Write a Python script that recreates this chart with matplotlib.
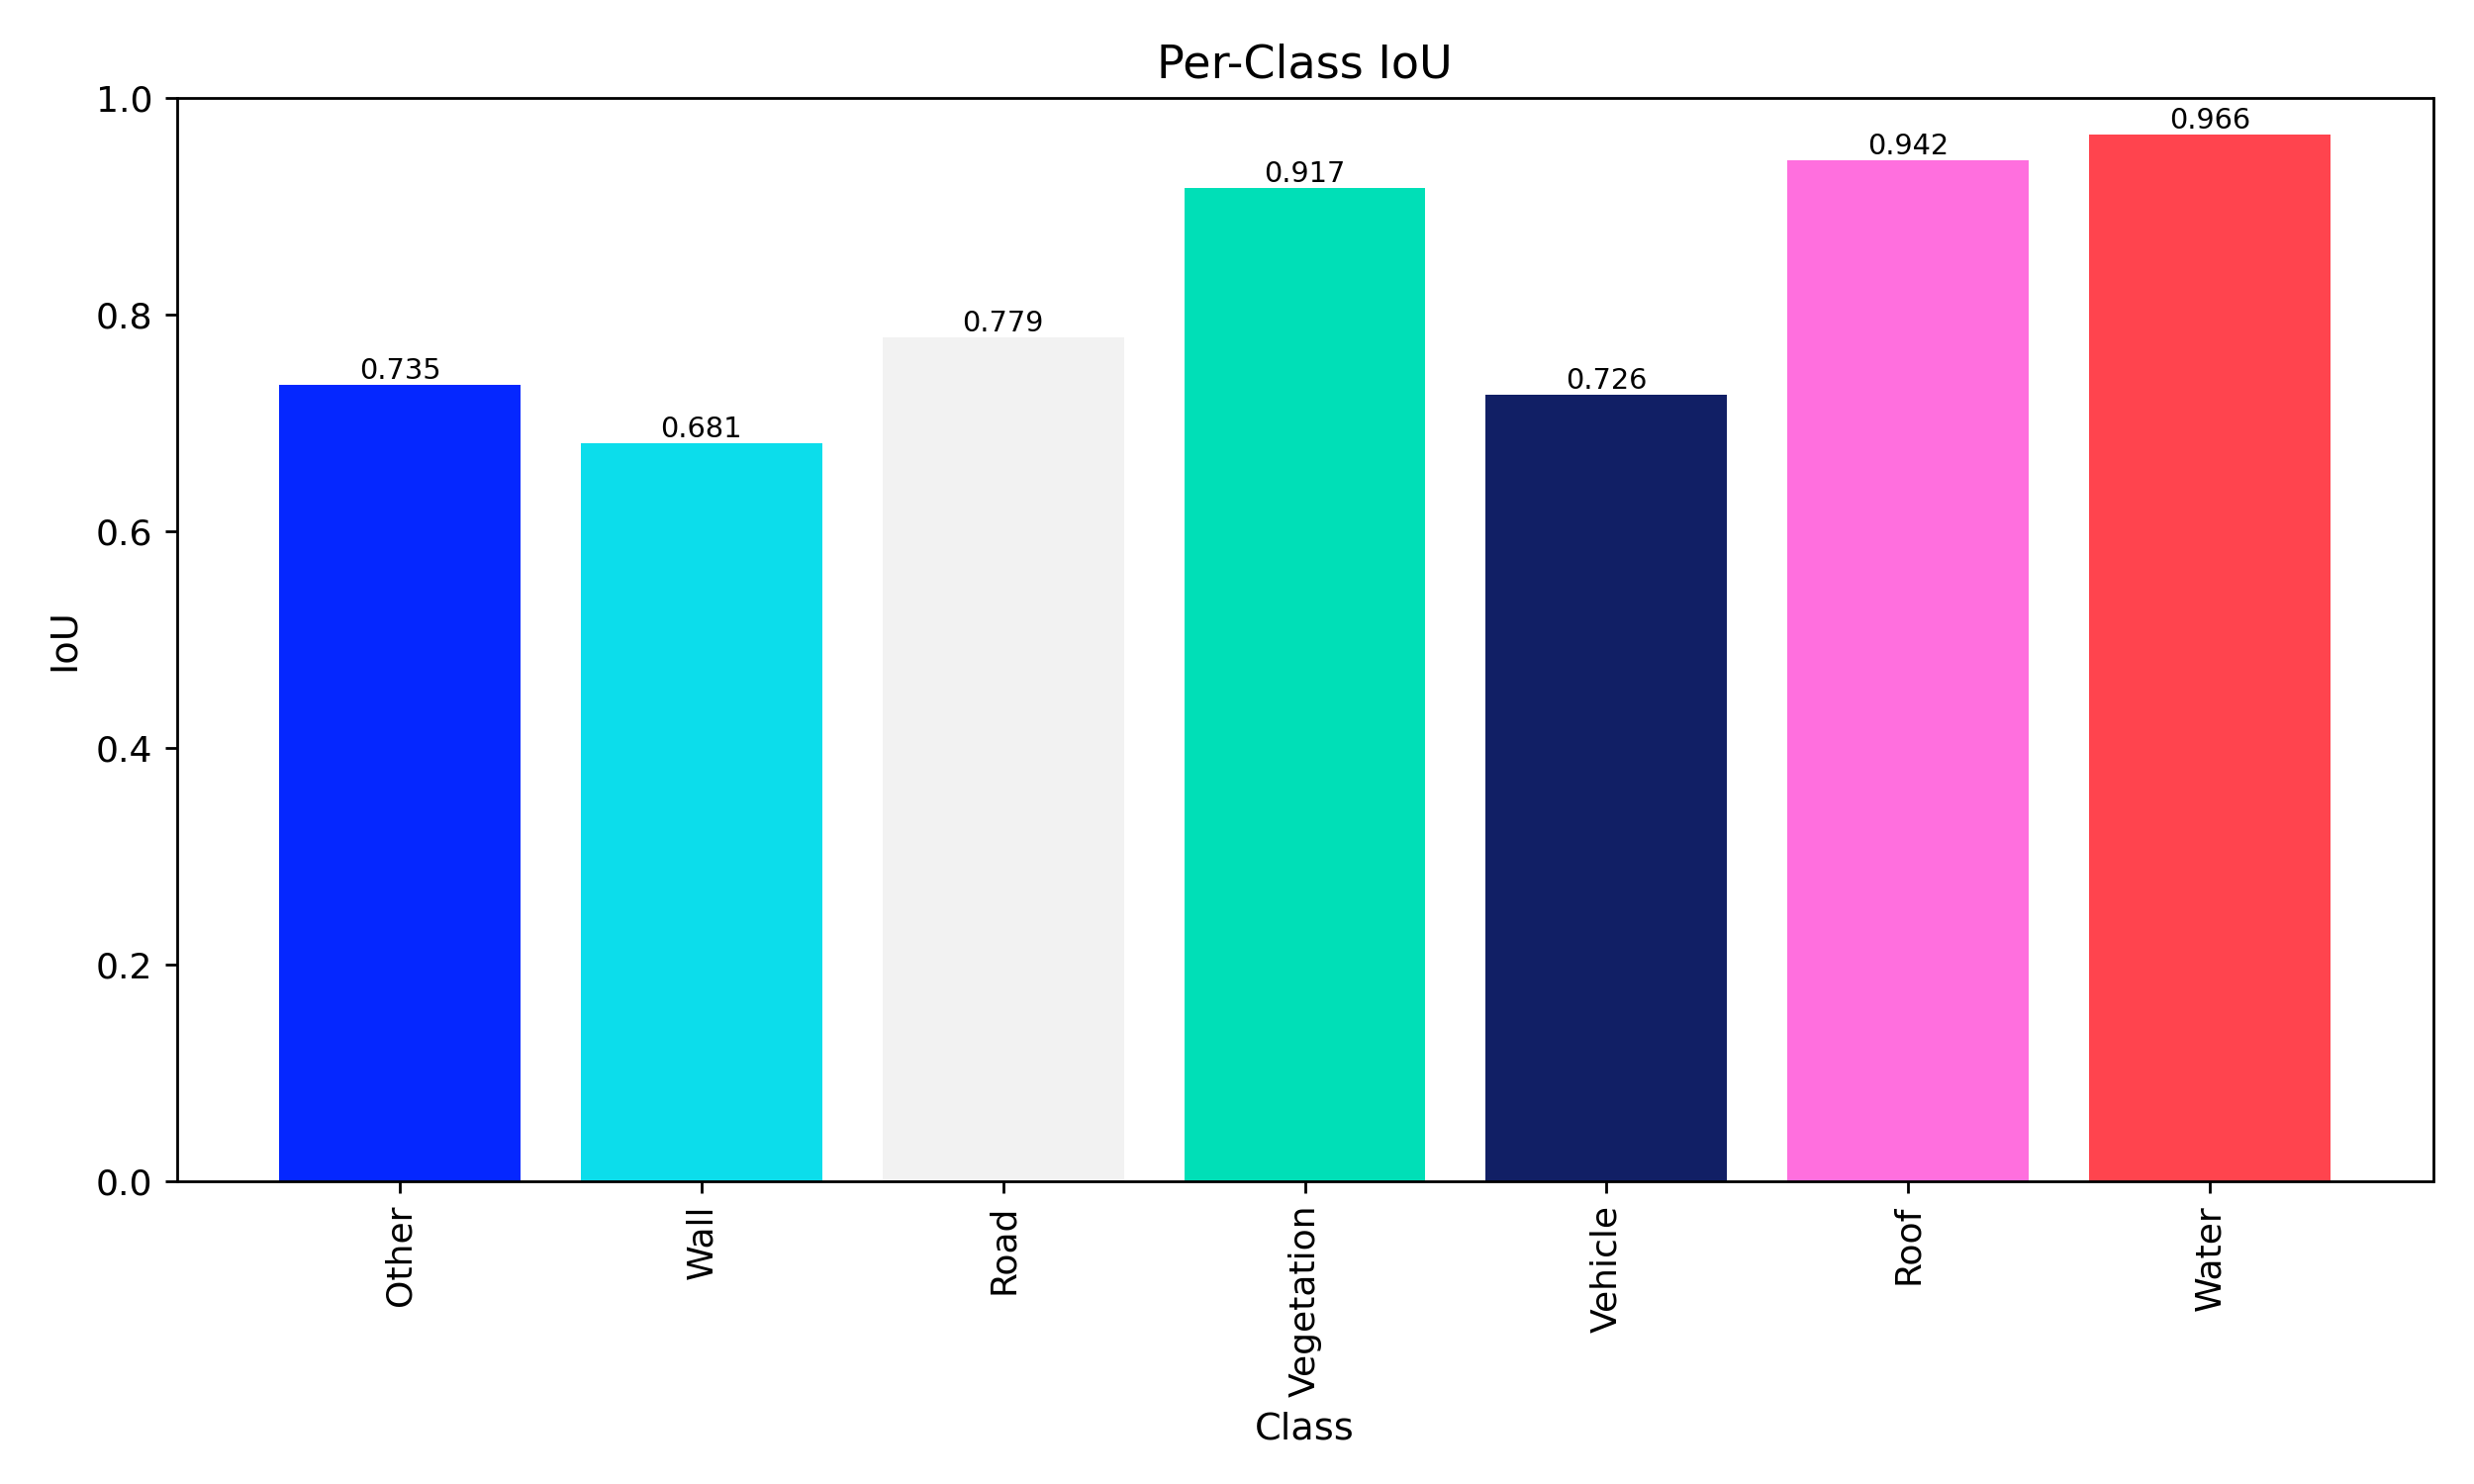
import numpy as np
import matplotlib
matplotlib.use("Agg")
import matplotlib.pyplot as plt

classes = ["Other", "Wall", "Road", "Vegetation", "Vehicle", "Roof", "Water"]
iou = [0.735, 0.681, 0.779, 0.917, 0.726, 0.942, 0.966]
colors = ["#0527FF", "#0CDDEB", "#F2F2F2", "#00DFB7", "#111F65", "#FF6FDE", "#FF444E"]

fig, ax = plt.subplots(figsize=(10, 6))
x = np.arange(len(classes))
bars = ax.bar(x, iou, color=colors)

for b, v in zip(bars, iou):
    ax.text(b.get_x() + b.get_width() / 2, v, f"{v:.3f}",
            ha="center", va="bottom", fontsize=8.3)

ax.set_xticks(x)
ax.set_xticklabels(classes, rotation=90)
ax.tick_params(labelsize=10.4)
ax.set_ylim(0, 1.0)
ax.set_title("Per-Class IoU", fontsize=13.3)
ax.set_xlabel("Class", fontsize=11)
ax.set_ylabel("IoU", fontsize=11)

fig.subplots_adjust(left=0.0714, right=0.9834, top=0.934, bottom=0.2043)
plt.savefig("out.png", dpi=250)
plt.close()
